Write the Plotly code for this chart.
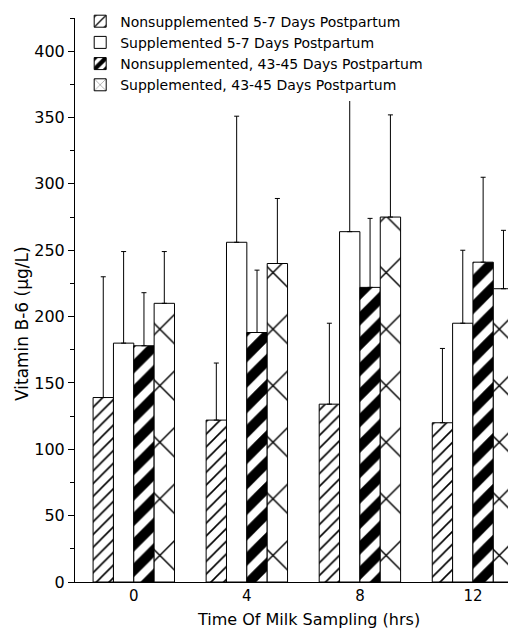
import plotly.graph_objects as go

categories = ["0", "4", "8", "12"]
series_names = [
    "Nonsupplemented 5-7 Days Postpartum",
    "Supplemented 5-7 Days Postpartum",
    "Nonsupplemented, 43-45 Days Postpartum",
    "Supplemented, 43-45 Days Postpartum",
]
nonsup_early = [139, 122, 134, 120]
nonsup_early_err = [91, 43, 61, 56]
sup_early = [180, 256, 264, 195]
sup_early_err = [69, 95, 131, 55]
nonsup_late = [178, 188, 222, 241]
nonsup_late_err = [40, 47, 52, 64]
sup_late = [210, 240, 275, 221]
sup_late_err = [39, 49, 77, 44]

y_ticks = [0, 50, 100, 150, 200, 250, 300, 350, 400]

values = [nonsup_early, sup_early, nonsup_late, sup_late]
errors = [nonsup_early_err, sup_early_err, nonsup_late_err, sup_late_err]
patterns = [
    dict(shape="/", size=9, solidity=0.18, fgcolor="black", bgcolor="white", fgopacity=1),
    dict(shape="", fgcolor="black", bgcolor="white", fgopacity=1),
    dict(shape="/", size=18, solidity=0.55, fgcolor="black", bgcolor="white", fgopacity=1),
    dict(shape="x", size=40, solidity=0.07, fgcolor="black", bgcolor="white", fgopacity=1),
]

FONT = "DejaVu Sans"
fig = go.Figure()
for name, v, e, p in zip(series_names, values, errors, patterns):
    fig.add_trace(go.Bar(
        x=categories, y=v, name=name,
        marker=dict(color="white", pattern=p, line=dict(color="black", width=1)),
        error_y=dict(type="data", array=e, arrayminus=[0] * len(e), symmetric=False,
                     color="black", thickness=1, width=2.5),
    ))

fig.update_layout(
    width=508, height=628,
    margin=dict(l=75, r=0, t=18, b=46),
    paper_bgcolor="white", plot_bgcolor="white",
    barmode="group", bargap=0.28, bargroupgap=0,
    font=dict(family=FONT, size=15, color="black"),
    showlegend=True,
    legend=dict(x=0.012, y=1.022, xanchor="left", yanchor="top",
                bgcolor="white", font=dict(family=FONT, size=14, color="black"),
                tracegroupgap=0, itemwidth=30),
    xaxis=dict(range=[-0.52, 3.31], showline=True, linecolor="black", linewidth=1,
               ticks="", showgrid=False, zeroline=False,
               tickfont=dict(family=FONT, size=15)),
    yaxis=dict(range=[0, 425], showline=True, linecolor="black", linewidth=1,
               tickvals=y_ticks, ticks="outside", ticklen=6, tickcolor="black",
               minor=dict(dtick=25, ticks="outside", ticklen=4, tickcolor="black"),
               showgrid=False, zeroline=False,
               tickfont=dict(family=FONT, size=16)),
    annotations=[
        dict(text="Time Of Milk Sampling (hrs)", xref="paper", yref="paper",
             x=(308 - 75) / 433, y=-37 / 564, xanchor="center", yanchor="middle",
             showarrow=False, font=dict(family=FONT, size=16)),
        dict(text="Vitamin B-6 (μg/L)", xref="paper", yref="paper",
             x=-53 / 433, y=(582 - 324) / 564, xanchor="center", yanchor="middle",
             textangle=-90, showarrow=False, font=dict(family=FONT, size=17)),
    ],
)

fig.write_html("out.html", config={"displayModeBar": False},
               post_script="document.body.style.margin='0';document.body.style.overflow='hidden';")
